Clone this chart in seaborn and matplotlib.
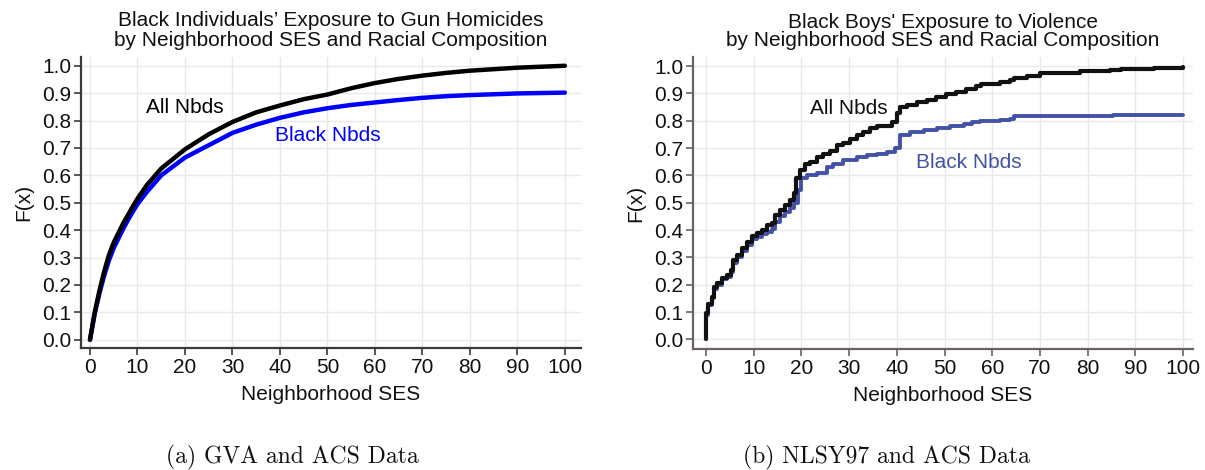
import matplotlib
matplotlib.use("Agg")
import matplotlib.pyplot as plt
import seaborn as sns
import pandas as pd

# Panel (a): CDF of gun-homicide exposure by neighborhood SES (smooth curves)
gva_ses = [0, 1, 2, 3, 4, 5, 6, 7, 8, 9, 10, 12, 15, 20, 25, 30, 35, 40, 45, 50, 55, 60, 65,
           70, 75, 80, 90, 100]
gva_all = [0, 0.10, 0.18, 0.25, 0.31, 0.355, 0.39, 0.425, 0.455, 0.486, 0.515, 0.565, 0.625,
           0.695, 0.75, 0.795, 0.83, 0.855, 0.878, 0.895, 0.918, 0.937, 0.952, 0.964, 0.974,
           0.982, 0.993, 1.0]
gva_black = [0, 0.095, 0.17, 0.235, 0.29, 0.335, 0.37, 0.405, 0.437, 0.467, 0.495, 0.54, 0.60,
             0.665, 0.71, 0.755, 0.785, 0.81, 0.83, 0.845, 0.857, 0.866, 0.875, 0.883, 0.889,
             0.893, 0.899, 0.902]

# Panel (b): empirical CDF (step curves) from NLSY97
nlsy_all_ses = [0, 0, 0.5, 1.2, 1.7, 2.2, 3.3, 4.3, 5.2, 5.7, 6.4, 7.5, 8.5, 9.6, 10.6, 11.7, 12.7,
                13.8, 14.5, 15.5, 16.6, 17.6, 18.5, 18.9, 19.7, 20.8, 21.8, 23.2, 24.6, 26.0, 27.4,
                28.8, 30.2, 31.6, 33.0, 34.4, 35.8, 39.0, 40.0, 40.7, 42.1, 44.2, 46.3, 48.3, 50.4,
                52.5, 54.6, 56.7, 57.7, 61.7, 63.8, 64.5, 67.3, 70.1, 78.5, 84.8, 86.9, 93.9, 100]
nlsy_all = [0, 0.095, 0.13, 0.156, 0.19, 0.205, 0.225, 0.235, 0.254, 0.29, 0.309, 0.334, 0.357,
            0.378, 0.39, 0.40, 0.418, 0.427, 0.455, 0.473, 0.49, 0.51, 0.534, 0.59, 0.62, 0.64,
            0.65, 0.666, 0.678, 0.69, 0.71, 0.718, 0.733, 0.748, 0.76, 0.772, 0.78, 0.794, 0.83,
            0.85, 0.857, 0.867, 0.877, 0.885, 0.898, 0.906, 0.916, 0.928, 0.934, 0.94, 0.948,
            0.958, 0.965, 0.974, 0.98, 0.985, 0.989, 0.991, 0.995]
nlsy_black_ses = [0, 0, 0.5, 1.2, 1.7, 2.2, 3.3, 4.3, 5.2, 5.7, 6.4, 7.5, 8.5, 9.6, 10.6, 11.7,
                  12.7, 13.8, 14.5, 15.5, 16.6, 17.6, 18.5, 19.2, 20.0, 21.1, 23.2, 25.3, 26.7,
                  28.8, 31.6, 33.7, 35.8, 37.9, 39.6, 40.7, 42.8, 45.6, 48.4, 51.2, 54.0, 55.8,
                  57.5, 61.7, 63.8, 64.5, 85.4, 100]
nlsy_black = [0, 0.09, 0.125, 0.15, 0.185, 0.2, 0.22, 0.23, 0.245, 0.28, 0.3, 0.325, 0.345,
              0.366, 0.375, 0.385, 0.394, 0.405, 0.43, 0.45, 0.465, 0.48, 0.5, 0.545, 0.59, 0.6,
              0.61, 0.63, 0.64, 0.656, 0.668, 0.674, 0.68, 0.686, 0.70, 0.747, 0.757, 0.766,
              0.774, 0.78, 0.788, 0.794, 0.80, 0.803, 0.808, 0.816, 0.821, 0.822]

x_ticks = list(range(0, 101, 10))
y_ticks = [i / 10 for i in range(11)]
y_ticklabels = [f"{v:.1f}" for v in y_ticks]

titles = ["Black Individuals\u2019 Exposure to Gun Homicides\nby Neighborhood SES and Racial Composition",
          "Black Boys' Exposure to Violence\nby Neighborhood SES and Racial Composition"]
captions = ["(a) GVA and ACS Data", "(b) NLSY97 and ACS Data"]

sns.set_theme(style="whitegrid")
plt.rcParams["font.family"] = ["Liberation Sans", "DejaVu Sans"]

fig = plt.figure(figsize=(12.05, 4.70), dpi=100)
ax1 = fig.add_axes([81 / 1205, 1 - 348 / 470, 500 / 1205, 291 / 470])
ax2 = fig.add_axes([693 / 1205, 1 - 349 / 470, 500 / 1205, 292 / 470])

df_a = pd.DataFrame({"ses": gva_ses, "all": gva_all, "black": gva_black})
sns.lineplot(data=df_a, x="ses", y="all", ax=ax1, color="#000000", lw=3.2,
             estimator=None, sort=False, zorder=4)
sns.lineplot(data=df_a, x="ses", y="black", ax=ax1, color="#0000ff", lw=3.2,
             estimator=None, sort=False, zorder=3)

df_b_all = pd.DataFrame({"ses": nlsy_all_ses, "F": nlsy_all})
df_b_black = pd.DataFrame({"ses": nlsy_black_ses, "F": nlsy_black})
sns.lineplot(data=df_b_black, x="ses", y="F", ax=ax2, color="#4352a6", lw=2.8,
             estimator=None, sort=False, drawstyle="steps-post", zorder=3)
sns.lineplot(data=df_b_all, x="ses", y="F", ax=ax2, color="#111111", lw=3.0,
             estimator=None, sort=False, drawstyle="steps-post", zorder=4)

spine_cols = ["#3a3a3a", "#6a6262"]
title_spacing = [1.05, 0.95]
for ax, (xl, yl), sc, title, ls in zip([ax1, ax2],
                                       [((-1.89, 103.4), (-0.030, 1.032)),
                                        ((-2.73, 102.1), (-0.035, 1.033))],
                                       spine_cols, titles, title_spacing):
    ax.set_xlim(*xl)
    ax.set_ylim(*yl)
    ax.set_xticks(x_ticks)
    ax.set_yticks(y_ticks)
    ax.set_yticklabels(y_ticklabels)
    ax.grid(True, color="#e9e9e9", lw=1.0)
    ax.set_facecolor("white")
    for side in ["top", "right"]:
        ax.spines[side].set_visible(False)
    for side in ["left", "bottom"]:
        ax.spines[side].set_visible(True)
        ax.spines[side].set_color(sc)
        ax.spines[side].set_linewidth(1.6)
    ax.tick_params(axis="both", which="major", direction="out", length=5, width=1.2,
                   color=sc, labelsize=15, labelcolor="#111111", pad=2,
                   left=True, bottom=True)
    ax.set_xlabel("Neighborhood SES", fontsize=15, color="#111111", labelpad=6)
    ax.set_ylabel("F(x)", fontsize=15, color="#111111", labelpad=6)
    ax.set_title(title, fontsize=15, color="#111111", linespacing=ls, pad=8)

ax1.text(20, 0.848, "All Nbds", fontsize=15, color="#000000", ha="center", va="center")
ax1.text(50, 0.746, "Black Nbds", fontsize=15, color="#0000ff", ha="center", va="center")
ax2.text(30, 0.844, "All Nbds", fontsize=15, color="#111111", ha="center", va="center")
ax2.text(55, 0.646, "Black Nbds", fontsize=15, color="#4352a6", ha="center", va="center")

fig.text(292 / 1205, 1 - 457 / 470, captions[0], fontsize=17, family="cmr10",
         ha="center", va="center", color="#111111")
fig.text(886 / 1205, 1 - 457 / 470, captions[1], fontsize=17, family="cmr10",
         ha="center", va="center", color="#111111")

fig.savefig("out.png", dpi=100, facecolor="white")
